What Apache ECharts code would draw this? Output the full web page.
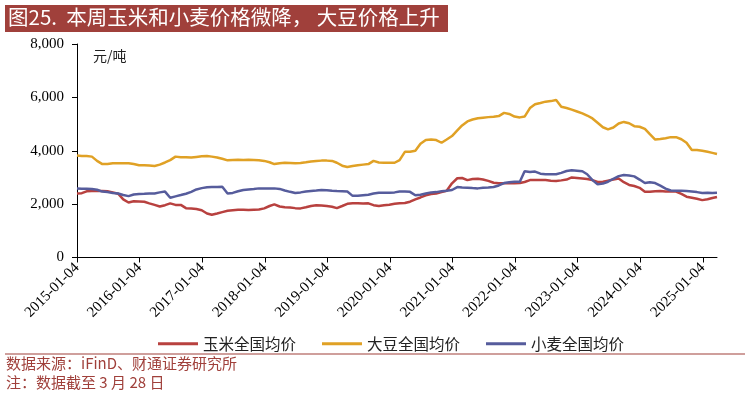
<!DOCTYPE html>
<html><head><meta charset="utf-8">
<script src="https://cdn.jsdelivr.net/npm/echarts@6/dist/echarts.min.js"></script>
<style>html,body{margin:0;padding:0;background:#fff}#c{width:748px;height:397px}</style>
</head><body><div id="c"></div>
<script>
const dates = [
'2015-01-04','2015-02-01','2015-03-01','2015-04-01','2015-05-01','2015-06-01','2015-07-01','2015-08-01','2015-09-01','2015-10-01','2015-11-01','2015-12-01',
'2016-01-01','2016-02-01','2016-03-01','2016-04-01','2016-05-01','2016-06-01','2016-07-01','2016-08-01','2016-09-01','2016-10-01','2016-11-01','2016-12-01',
'2017-01-01','2017-02-01','2017-03-01','2017-04-01','2017-05-01','2017-06-01','2017-07-01','2017-08-01','2017-09-01','2017-10-01','2017-11-01','2017-12-01',
'2018-01-01','2018-02-01','2018-03-01','2018-04-01','2018-05-01','2018-06-01','2018-07-01','2018-08-01','2018-09-01','2018-10-01','2018-11-01','2018-12-01',
'2019-01-01','2019-02-01','2019-03-01','2019-04-01','2019-05-01','2019-06-01','2019-07-01','2019-08-01','2019-09-01','2019-10-01','2019-11-01','2019-12-01',
'2020-01-01','2020-02-01','2020-03-01','2020-04-01','2020-05-01','2020-06-01','2020-07-01','2020-08-01','2020-09-01','2020-10-01','2020-11-01','2020-12-01',
'2021-01-01','2021-02-01','2021-03-01','2021-04-01','2021-05-01','2021-06-01','2021-07-01','2021-08-01','2021-09-01','2021-10-01','2021-11-01','2021-12-01',
'2022-01-01','2022-02-01','2022-03-01','2022-04-01','2022-05-01','2022-06-01','2022-07-01','2022-08-01','2022-09-01','2022-10-01','2022-11-01','2022-12-01',
'2023-01-01','2023-02-01','2023-03-01','2023-04-01','2023-05-01','2023-06-01','2023-07-01','2023-08-01','2023-09-01','2023-10-01','2023-11-01','2023-12-01',
'2024-01-01','2024-02-01','2024-03-01','2024-04-01','2024-05-01','2024-06-01','2024-07-01','2024-08-01','2024-09-01','2024-10-01','2024-11-01','2024-12-01',
'2025-01-01','2025-02-01','2025-03-01','2025-03-28'];

const corn = [
2400,2410,2480,2490,2490,2490,2480,2440,2390,2180,2060,2110,
2100,2090,2030,1970,1910,1960,2030,1970,1970,1850,1840,1820,
1770,1650,1600,1650,1700,1750,1770,1790,1790,1780,1790,1800,
1840,1930,1990,1910,1880,1870,1850,1840,1880,1930,1960,1950,
1930,1900,1850,1930,2010,2030,2030,2020,2030,1960,1930,1960,
1980,2010,2030,2040,2090,2180,2250,2330,2380,2400,2450,2500,
2780,2970,2980,2900,2940,2950,2920,2870,2800,2780,2780,2780,
2780,2790,2830,2900,2900,2900,2900,2880,2870,2890,2920,3000,
2980,2960,2940,2900,2830,2840,2880,2920,2960,2820,2720,2680,
2610,2460,2460,2480,2490,2470,2470,2470,2380,2280,2240,2200,
2150,2180,2230,2270];

const soybean = [
3820,3800,3800,3780,3620,3500,3500,3530,3530,3530,3530,3500,
3460,3460,3450,3430,3480,3560,3650,3780,3760,3760,3750,3770,
3790,3800,3780,3750,3700,3640,3650,3660,3650,3660,3650,3640,
3620,3570,3500,3530,3550,3540,3530,3540,3570,3600,3620,3630,
3630,3620,3550,3440,3390,3430,3460,3480,3500,3620,3560,3550,
3550,3550,3650,3960,3960,4000,4260,4400,4420,4400,4300,4420,
4550,4760,4950,5100,5170,5220,5240,5260,5270,5300,5420,5380,
5280,5250,5280,5600,5740,5790,5840,5860,5900,5650,5600,5540,
5470,5400,5320,5210,5050,4880,4800,4870,5020,5080,5030,4920,
4900,4820,4620,4420,4440,4470,4510,4510,4430,4300,4030,4030,
4000,3960,3920,3880];

const wheat = [
2590,2580,2580,2570,2540,2470,2450,2420,2400,2340,2300,2360,
2380,2390,2400,2400,2440,2470,2240,2290,2340,2390,2460,2550,
2600,2630,2640,2640,2650,2400,2420,2480,2530,2550,2570,2590,
2590,2590,2590,2570,2510,2460,2420,2440,2470,2490,2510,2530,
2520,2500,2490,2480,2470,2310,2310,2330,2350,2400,2430,2430,
2430,2440,2470,2470,2460,2330,2350,2400,2440,2450,2480,2500,
2530,2640,2620,2610,2600,2590,2610,2620,2640,2700,2790,2820,
2840,2840,3230,3200,3220,3140,3120,3120,3120,3170,3240,3270,
3250,3230,3120,2900,2740,2770,2840,2950,3050,3090,3070,3040,
2920,2790,2820,2790,2690,2580,2510,2500,2500,2490,2470,2450,
2420,2430,2420,2430];

const tickLabels = ['2015-01-04','2016-01-04','2017-01-04','2018-01-04','2019-01-04','2020-01-04','2021-01-04','2022-01-04','2023-01-04','2024-01-04','2025-01-04'];
const seriesNames = ['玉米全国均价','大豆全国均价','小麦全国均价'];
const colors = ['#B8413F','#E0A125','#565C9C'];

const toTs = s => { const p = s.split('-'); return Date.UTC(+p[0], +p[1]-1, +p[2]); };
const pad = n => (n < 10 ? '0' : '') + n;
const fmt = v => { const d = new Date(v); return d.getUTCFullYear() + '-' + pad(d.getUTCMonth()+1) + '-' + pad(d.getUTCDate()); };
const tickTs = tickLabels.map(toTs);
const pairs = arr => dates.map((d, i) => [toTs(d), arr[i]]);

const serif = '"Liberation Serif", "Times New Roman", serif';
const cjk = '"Noto Sans CJK SC", sans-serif';
const red = '#A0403B';

const chart = echarts.init(document.getElementById('c'), null, {renderer: 'canvas'});
chart.setOption({
  animation: false,
  color: colors,
  grid: {left: 77, right: 31, top: 44, bottom: 139.5, containLabel: false},
  legend: {
    data: seriesNames, left: 153, top: 331, icon: 'rect', itemWidth: 40, itemHeight: 3,
    itemGap: 26, textStyle: {fontFamily: cjk, fontSize: 15.5, color: '#222'}
  },
  xAxis: {
    type: 'value', min: toTs('2015-01-04'), max: toTs('2025-03-28'), scale: true,
    axisLine: {lineStyle: {color: '#000', width: 1}},
    axisTick: {show: true, length: 5, inside: false, customValues: tickTs, lineStyle: {color: '#000'}},
    axisLabel: {customValues: tickTs, rotate: 45, fontFamily: serif, fontSize: 15, color: '#000', margin: 8, formatter: v => fmt(v)},
    splitLine: {show: false}
  },
  yAxis: {
    type: 'value', min: 0, max: 8000, interval: 2000,
    axisLine: {show: true, lineStyle: {color: '#000', width: 1}},
    axisTick: {show: true, length: 5, lineStyle: {color: '#000'}},
    axisLabel: {fontFamily: serif, fontSize: 15, color: '#000', margin: 13, formatter: v => v.toLocaleString('en-US')},
    splitLine: {show: false}
  },
  series: [
    {name: seriesNames[0], type: 'line', data: pairs(corn), showSymbol: false, lineStyle: {width: 2.5}},
    {name: seriesNames[1], type: 'line', data: pairs(soybean), showSymbol: false, lineStyle: {width: 2.5}},
    {name: seriesNames[2], type: 'line', data: pairs(wheat), showSymbol: false, lineStyle: {width: 2.5}}
  ],
  graphic: [
    {type: 'rect', shape: {x: 5, y: 5, width: 443, height: 27}, style: {fill: red}},
    {type: 'text', left: 8, top: 7, style: {text: '图25.  本周玉米和小麦价格微降， 大豆价格上升', fill: '#fff', font: '20.5px ' + cjk}},
    {type: 'text', left: 93, top: 49, style: {text: '元/吨', fill: '#222', font: '14px ' + cjk}},
    {type: 'rect', shape: {x: 5, y: 353.5, width: 740, height: 1}, style: {fill: red}},
    {type: 'text', left: 6, top: 356, style: {text: '数据来源：iFinD、财通证券研究所', fill: red, font: '15px ' + cjk}},
    {type: 'text', left: 6, top: 375, style: {text: '注：数据截至 3 月 28 日', fill: red, font: '15px ' + cjk}}
  ]
});
</script></body></html>
